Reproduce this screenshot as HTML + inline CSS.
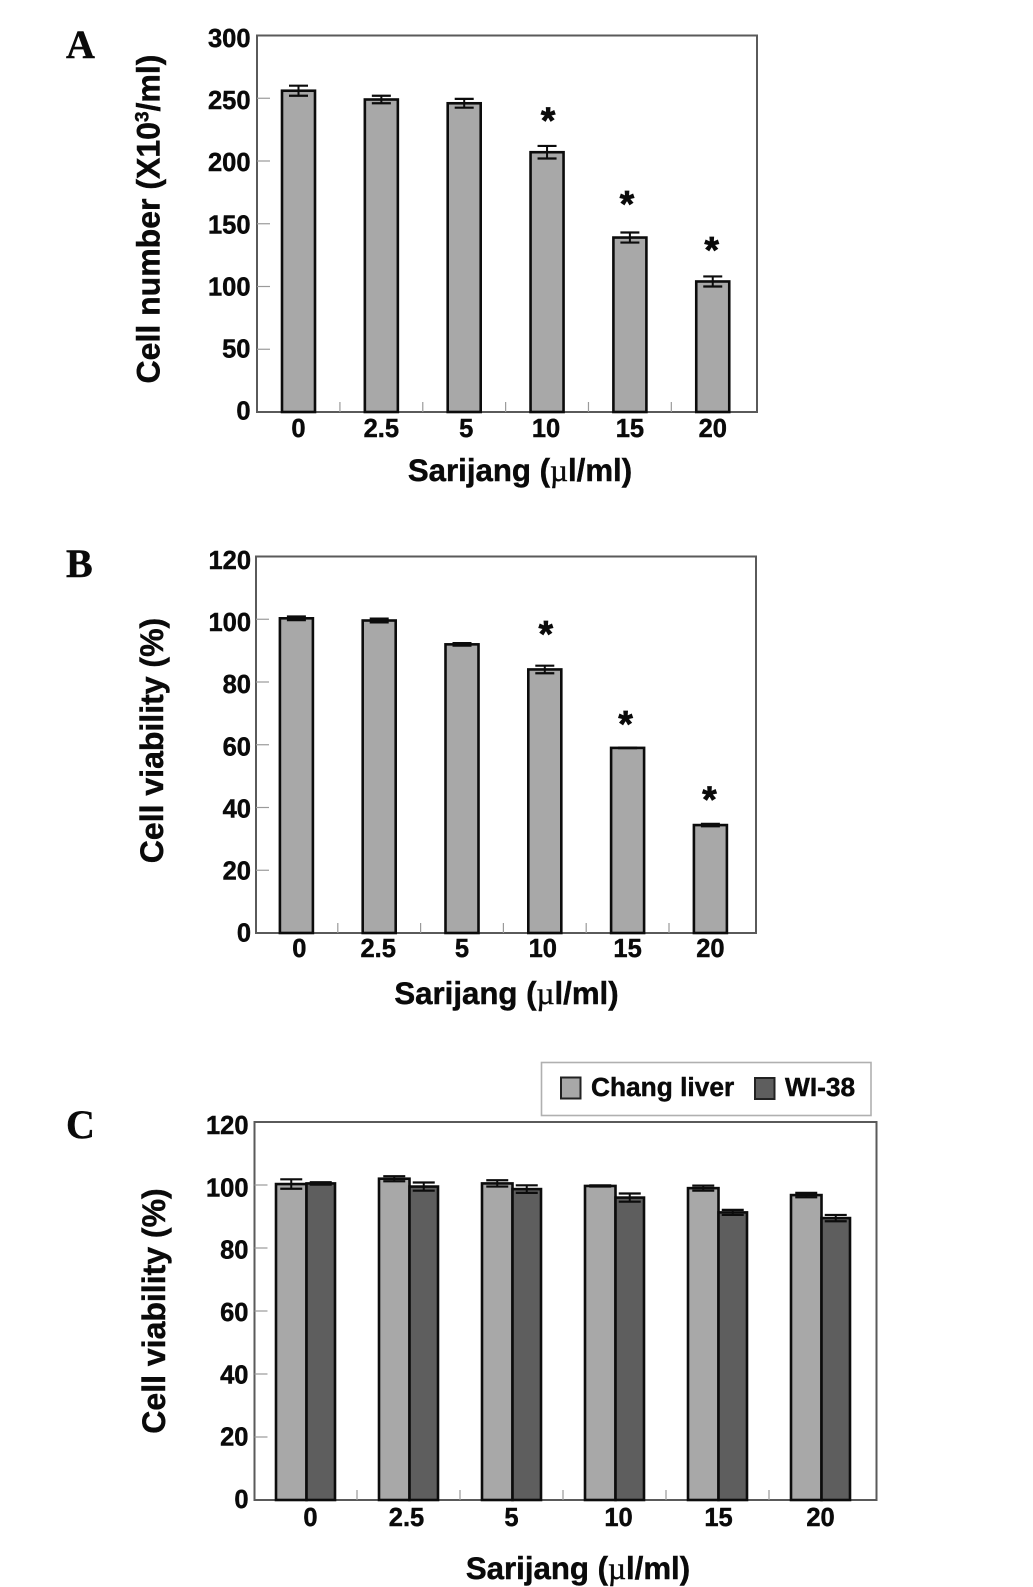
<!DOCTYPE html>
<html lang="en">
<head>
<meta charset="utf-8">
<title>Sarijang cell viability chart</title>
<style>
html,body{margin:0;padding:0;background:#fff;}
body{width:1033px;height:1587px;overflow:hidden;}
svg{display:block;}
text{font-family:"Liberation Sans",Arial,sans-serif;font-weight:bold;fill:#0a0a0a;stroke:#0a0a0a;stroke-width:0.45px;}
</style>
</head>
<body>
<svg id="figure" xmlns="http://www.w3.org/2000/svg" width="1033" height="1587" viewBox="0 0 1033 1587"></svg>
<script>
const categories = ["0", "2.5", "5", "10", "15", "20"];
const yTicksA = [0, 50, 100, 150, 200, 250, 300];
const yTicksPct = [0, 20, 40, 60, 80, 100, 120];
const valuesA = [256, 249, 246, 207, 139, 104];
const errorsA = [4, 3, 3.5, 5, 4, 4];
const significantA = [0, 0, 0, 1, 1, 1];
const valuesB = [100.3, 99.6, 92, 84, 59, 34.4];
const errorsB = [0.6, 0.6, 0.4, 1.2, 0.1, 0.4];
const significantB = [0, 0, 0, 1, 1, 1];
const valuesChang = [100.3, 102, 100.5, 99.7, 99, 96.8];
const errorsChang = [1.5, 0.8, 1, 0.2, 0.8, 0.7];
const valuesWI38 = [100.5, 99.5, 98.7, 96, 91.3, 89.5];
const errorsWI38 = [0.4, 1.3, 1.2, 1.3, 0.8, 1];

const NS = "http://www.w3.org/2000/svg";
const svg = document.getElementById("figure");
const LIGHT = "#a8a8a8", DARK = "#5e5e5e", INK = "#0c0c0c";

function make(tag, attrs, parent) {
  const el = document.createElementNS(NS, tag);
  for (const k in attrs) el.setAttribute(k, attrs[k]);
  (parent || svg).appendChild(el);
  return el;
}

function drawFrame(g, L) {
  const f = make("rect", {x: L.left, y: L.top, width: L.right - L.left, height: L.bottom - L.top, fill: "#fff", stroke: "#5a5a5a", "stroke-width": 2}, g);
  
  
}

function drawYAxis(g, L, ticks, yMax) {
  const y = v => L.bottom - (L.bottom - L.top) * v / yMax;
  ticks.forEach((v, i) => {
    if (i > 0 && i < ticks.length - 1) {
      const t = make("line", {x1: L.left, x2: L.left + 13, y1: y(v), y2: y(v), stroke: "#9a9a9a", "stroke-width": 1.2}, g);
      
      
    }
    const labelY = L.bottom - 2 - (L.bottom - L.top - 4) * v / yMax;
    const label = make("text", {x: L.left + L.yLabelDx, y: labelY + 9 + L.yLabelDy, "text-anchor": "end", "font-size": 25.5}, g);
    label.textContent = v;
    
    
  });
  return y;
}

function drawXLabels(g, L, centers, tickXs) {
  tickXs.forEach(x => {
    const t = make("line", {x1: x, x2: x, y1: L.bottom, y2: L.bottom - 10, stroke: "#9a9a9a", "stroke-width": 1.2}, g);
    
    
  });
  categories.forEach((c, i) => {
    const label = make("text", {x: centers[i] + L.labelNudge[i], y: L.bottom + L.xLabelDy, "text-anchor": "middle", "font-size": 25.5}, g);
    label.textContent = c;
    
    
  });
}

function drawBar(g, x, w, value, err, y, fill, L, capW) {
  const top = y(value);
  const eTop = y(value + err), eBot = y(value - err);
  const b = make("rect", {x: x, y: top, width: w, height: L.bottom - top, fill: fill, stroke: INK, "stroke-width": 2.6}, g);
  
  
  const cx = x + w / 2;
  const stem = make("line", {x1: cx, x2: cx, y1: eTop, y2: eBot, stroke: INK, "stroke-width": 2}, g);
  
  
  [eTop, eBot].forEach(v => {
    const cap = make("line", {x1: cx - capW / 2, x2: cx + capW / 2, y1: v, y2: v, stroke: INK, "stroke-width": 2.2}, g);
    
    
  });
}

function drawXTitle(g, cx, cy) {
  const t = make("text", {x: cx, y: cy + 11, "text-anchor": "middle", "font-size": 31.2}, g);
  
  
  const a = make("tspan", {}, t); a.textContent = "Sarijang (";
  const m = make("tspan", {style: "font-family:'Liberation Serif',serif;font-weight:normal"}, t); m.textContent = "\u00b5";
  const b = make("tspan", {}, t); b.textContent = "l/ml)";
}

function drawYTitle(g, cx, cy, parts) {
  const t = make("text", {transform: "translate(" + (cx + 11) + "," + cy + ") rotate(-90)", "text-anchor": "middle", "font-size": 32}, g);
  
  
  parts.forEach(p => {
    const s = make("tspan", p.sup ? {"font-size": 19, dy: -11} : (p.after ? {dy: 11} : {}), t);
    s.textContent = p.text;
  });
}

function panelLetter(letter, x, y) {
  const t = make("text", {x: x, y: y, style: "font-family:'Liberation Serif',serif;font-size:40px;font-weight:bold"});
  t.textContent = letter;
  
  
}

function drawSingle(name, L, values, errors, significant, ticks, yMax) {
  const g = make("g", {});
  
  
  drawFrame(g, L);
  const y = drawYAxis(g, L, ticks, yMax);
  const centers = categories.map((_, i) => L.first + L.step * i);
  const tickXs = centers.slice(0, -1).map(c => c + L.step / 2);
  values.forEach((v, i) => {
    drawBar(g, centers[i] - L.barW / 2, L.barW, v, errors[i], y, LIGHT, L, 19);
    if (significant[i]) {
      const s = make("text", {x: centers[i] - 1 + L.starDx[i], y: y(v + errors[i]) - 13 + L.starDy[i], "text-anchor": "middle", "font-size": 37, style: "stroke-width:0.8px"}, g);
      s.textContent = "*";
      
      
    }
  });
  drawXLabels(g, L, centers, tickXs);
  return g;
}

/* Panel A */
const layoutA = {left: 257, right: 757, top: 35.5, bottom: 412, first: 298.5, step: 82.85, barW: 33, xLabelDy: 25,
  yLabelDx: -6.5, yLabelDy: 0.5, labelNudge: [0, 0, 2, -1, 0, 0], starDx: [0, 0, 0, 2, -2, 0], starDy: [0, 0, 0, 0, -3, -1]};
const gA = drawSingle("panel-a-chart", layoutA, valuesA, errorsA, significantA, yTicksA, 300);
drawXTitle(gA, 520, 470);
drawYTitle(gA, 148.5, 219, [{text: "Cell number (X10"}, {text: "3", sup: true}, {text: "/ml)", after: true}]);
panelLetter("A", 66, 58);

/* Panel B */
const layoutB = {left: 256, right: 756, top: 556.5, bottom: 933, first: 296.4, step: 82.8, barW: 33, xLabelDy: 24,
  yLabelDx: -5, yLabelDy: 1.5, labelNudge: [3, -1, 0, -2, 0, 0], starDx: [0, 0, 0, 2, -1, 0], starDy: [0, 0, 0, -6, 2, 1]};
const gB = drawSingle("panel-b-chart", layoutB, valuesB, errorsB, significantB, yTicksPct, 120);
drawXTitle(gB, 506.5, 993);
drawYTitle(gB, 152, 740.5, [{text: "Cell viability (%)"}]);
panelLetter("B", 66, 577);

/* Panel C */
const layoutC = {left: 254.5, right: 876.5, top: 1122, bottom: 1500, first: 276, step: 103, lightW: 30.5, darkW: 28.5, xLabelDy: 26,
  yLabelDx: -6, yLabelDy: 1, labelNudge: [5, -2, 0, 4, 1, 0]};
const gC = make("g", {});


drawFrame(gC, layoutC);
const yC = drawYAxis(gC, layoutC, yTicksPct, 120);
const groupLefts = categories.map((_, i) => layoutC.first + layoutC.step * i);
valuesChang.forEach((v, i) => {
  const x = groupLefts[i];
  drawBar(gC, x, layoutC.lightW, v, errorsChang[i], yC, LIGHT, layoutC, 22);
  drawBar(gC, x + layoutC.lightW, layoutC.darkW, valuesWI38[i], errorsWI38[i], yC, DARK, layoutC, 22);
});
const groupW = layoutC.lightW + layoutC.darkW;
drawXLabels(gC, layoutC,
  groupLefts.map(x => x + groupW / 2),
  groupLefts.slice(0, -1).map(x => x + groupW + (layoutC.step - groupW) / 2));
drawXTitle(gC, 578, 1568);
drawYTitle(gC, 154, 1311, [{text: "Cell viability (%)"}]);
panelLetter("C", 66, 1138);

/* Legend */
const legend = make("g", {});


const box = make("rect", {x: 541.5, y: 1062.5, width: 329.5, height: 53, fill: "#fff", stroke: "#b0b0b0", "stroke-width": 1.6}, legend);


const sw1 = make("rect", {x: 561, y: 1077.5, width: 19.5, height: 21, fill: LIGHT, stroke: "#222", "stroke-width": 2}, legend);


const t1 = make("text", {x: 591, y: 1096, "font-size": 26.3}, legend);
t1.textContent = "Chang liver";


const sw2 = make("rect", {x: 755, y: 1078, width: 19.5, height: 21, fill: DARK, stroke: "#222", "stroke-width": 2}, legend);


const t2 = make("text", {x: 785, y: 1096, "font-size": 26.3}, legend);
t2.textContent = "WI-38";


</script>
</body>
</html>
